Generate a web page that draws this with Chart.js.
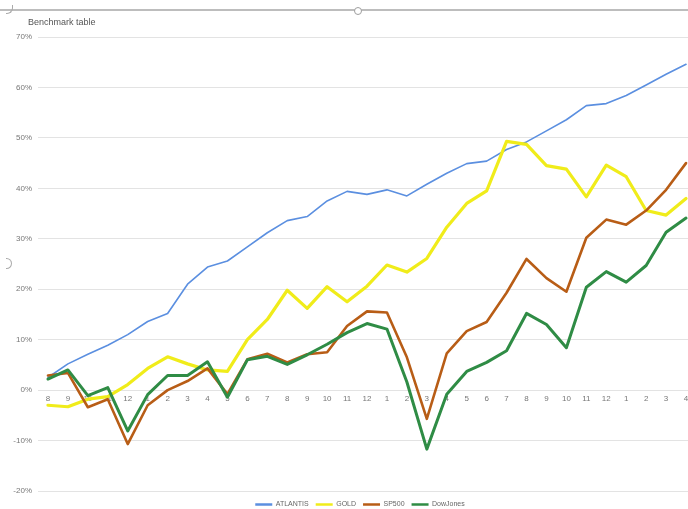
<!DOCTYPE html>
<html>
<head>
<meta charset="utf-8">
<script src="https://cdn.jsdelivr.net/npm/chart.js@4.4.1/dist/chart.umd.min.js"></script>
<style>
  html, body { margin: 0; padding: 0; background: #fff; overflow: hidden; width: 688px; height: 509px; }
  #wrap { position: absolute; left: 0; top: 0; width: 696px; height: 515px; }
  #title { position: absolute; left: 28px; top: 17px; font: 9px "Liberation Sans", Arial, sans-serif; color: #555; }
  #bar { position: absolute; left: 0; top: 9px; width: 688px; height: 2px; background: #bdbdbd; }
  #knob { position: absolute; left: 354px; top: 7px; width: 6px; height: 6px; border: 1.5px solid #9e9e9e; border-radius: 50%; background: #fff; }
  #h1 { position: absolute; left: 6px; top: 5px; width: 6px; height: 8px; border: 1.5px solid #aaa; border-left: none; border-top: none; border-radius: 0 0 6px 0; }
  #h2 { position: absolute; left: 6px; top: 258px; width: 5px; height: 9px; border: 1.5px solid #aaa; border-left: none; border-radius: 0 6px 6px 0; }
</style>
</head>
<body>
<div id="wrap"><canvas id="c" width="696" height="515"></canvas></div>
<div id="bar"></div>
<div id="knob"></div>
<div id="h1"></div>
<div id="h2"></div>
<div id="title">Benchmark table</div>
<script>
const labels = ['8','9','10','11','12','1','2','3','4','5','6','7','8','9','10','11','12','1','2','3','4','5','6','7','8','9','10','11','12','1','2','3','4'];
const atlantis = [2.5,5.2,7.1,8.9,11.0,13.6,15.2,21.0,24.4,25.6,28.4,31.2,33.6,34.4,37.5,39.4,38.8,39.7,38.5,40.8,43.0,44.9,45.4,47.7,49.2,51.4,53.6,56.4,56.8,58.4,60.5,62.6,64.6];
const gold = [-3.0,-3.3,-1.8,-1.3,1.1,4.3,6.6,5.2,4.0,3.7,10.0,14.0,19.8,16.2,20.5,17.5,20.6,24.8,23.4,26.1,32.3,37.0,39.5,49.3,48.7,44.5,43.8,38.3,44.6,42.3,35.6,34.7,38.0];
const sp500 = [2.9,3.4,-3.4,-1.8,-10.7,-3.0,0.0,1.8,4.3,-0.8,6.1,7.2,5.5,7.1,7.5,12.7,15.6,15.4,6.5,-5.7,7.3,11.7,13.5,19.3,26.0,22.2,19.5,30.2,33.8,32.8,35.6,39.7,45.0];
const dowJones = [2.2,4.0,-1.1,0.5,-8.1,-0.9,2.9,2.9,5.6,-1.4,6.0,6.7,5.1,7.0,9.1,11.4,13.2,12.1,1.6,-11.7,-0.8,3.7,5.5,7.8,15.2,13.0,8.4,20.4,23.5,21.4,24.7,31.3,34.1];
const yTicks = [-20,-10,0,10,20,30,40,50,60,70];

const FONT = "'Liberation Sans', Arial, sans-serif";

const legendShift = {
  id: 'legendShift',
  afterLayout(chart) {
    const l = chart.legend;
    if (l) { l.left += 6; l.right += 6; l.top += 3; l.bottom += 3; }
  }
};

new Chart(document.getElementById('c'), {
  type: 'line',
  data: {
    labels: labels,
    datasets: [
      { label: 'ATLANTIS', data: atlantis, borderColor: '#5b8fe0', backgroundColor: '#5b8fe0', borderWidth: 1.6, order: 3 },
      { label: 'GOLD', data: gold, borderColor: '#f0ec1a', backgroundColor: '#f0ec1a', borderWidth: 3.2, order: 2 },
      { label: 'SP500', data: sp500, borderColor: '#b85d16', backgroundColor: '#b85d16', borderWidth: 2.6, order: 1 },
      { label: 'DowJones', data: dowJones, borderColor: '#2f8c45', backgroundColor: '#2f8c45', borderWidth: 3, order: 0 }
    ]
  },
  plugins: [legendShift],
  options: {
    responsive: false,
    animation: false,
    layout: { padding: { left: 12, right: 0, top: 37, bottom: 0 } },
    elements: { point: { radius: 0, hoverRadius: 0 }, line: { tension: 0, borderJoinStyle: 'round', borderCapStyle: 'round' } },
    plugins: {
      legend: {
        position: 'bottom',
        labels: {
          boxWidth: 17, boxHeight: 2.5, padding: 7,
          color: '#666', font: { family: FONT, size: 7 },
          generateLabels: (chart) => Chart.defaults.plugins.legend.labels.generateLabels(chart).map(it => Object.assign(it, { lineWidth: 0 })),
          sort: (a, b) => a.datasetIndex - b.datasetIndex
        }
      },
      title: { display: false },
      tooltip: { enabled: false }
    },
    scales: {
      x: {
        position: { y: 0 },
        offset: true,
        grid: { display: false, drawTicks: false },
        border: { display: false },
        ticks: { color: '#777', font: { family: FONT, size: 8 }, padding: 4, maxRotation: 0, autoSkip: false }
      },
      y: {
        min: yTicks[0], max: yTicks[yTicks.length - 1],
        afterFit: (s) => { s.width = 26; },
        afterBuildTicks: (s) => { s.ticks = yTicks.map(v => ({ value: v })); },
        grid: { color: '#e3e3e3', lineWidth: 1, drawTicks: false },
        border: { display: false },
        ticks: { color: '#777', font: { family: FONT, size: 8 }, padding: 6, callback: (v) => v + '%' }
      }
    }
  }
});
</script>
</body>
</html>
